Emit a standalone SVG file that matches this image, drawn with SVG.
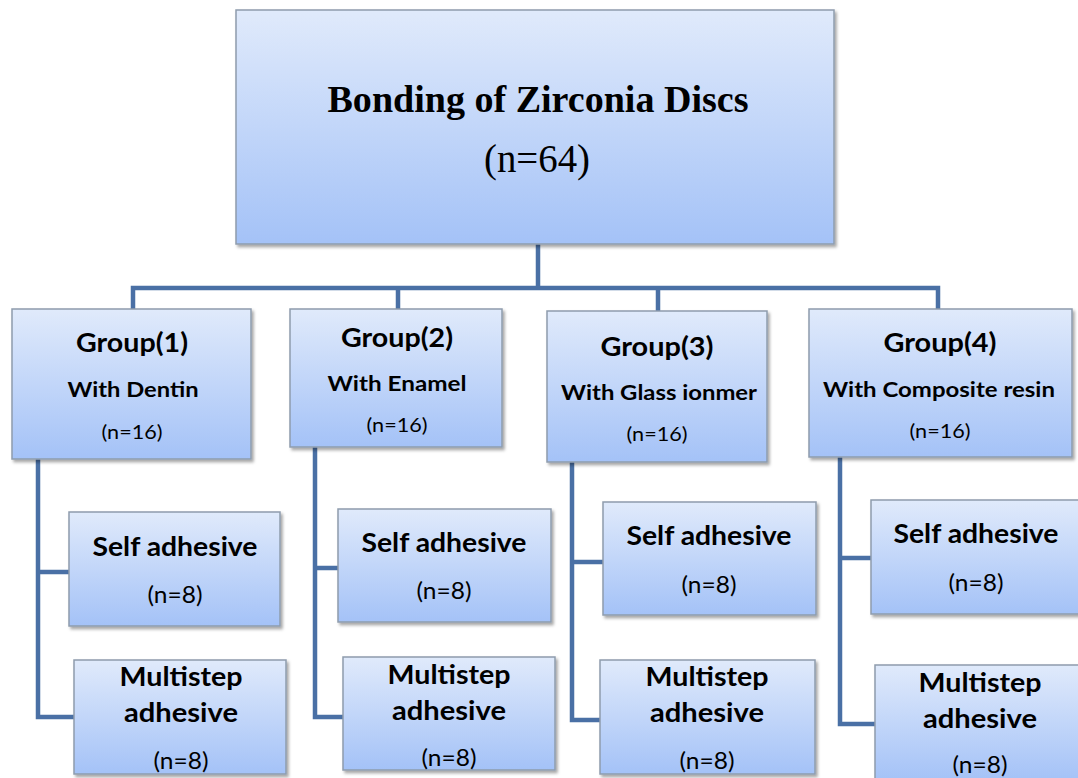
<svg xmlns="http://www.w3.org/2000/svg" width="1078" height="778" viewBox="0 0 1078 778">
<defs>
<linearGradient id="g" x1="0" y1="0" x2="0" y2="1">
<stop offset="0" stop-color="#e0eafb"/>
<stop offset="1" stop-color="#a4c2f7"/>
</linearGradient>
<filter id="sh" x="-5%" y="-5%" width="115%" height="120%">
<feDropShadow dx="2" dy="2.5" stdDeviation="1.5" flood-color="#000" flood-opacity="0.35"/>
</filter>
</defs>
<style>
.box{fill:url(#g);stroke:#8e9cad;stroke-width:1.5;filter:url(#sh)}
.ln{fill:none;stroke:#4a70a5;stroke-width:4.5;stroke-linejoin:miter}
.t{font-family:"Liberation Serif","Times New Roman",serif;text-anchor:middle;fill:#000}
.h{font-family:Lato,"Open Sans","Liberation Sans",sans-serif;font-weight:bold;text-anchor:middle;fill:#000}
.n{font-family:Lato,"Open Sans","Liberation Sans",sans-serif;text-anchor:middle;fill:#000}
</style>
<rect width="1078" height="778" fill="#fff"/>
<g id="connectors">
<path class="ln" d="M538,244 V288 M133,309 V288 H938 V309 M398,288 V309 M658,288 V311"/>
<path class="ln" d="M38,459 V717 H74 M38,572 H69"/>
<path class="ln" d="M315,447 V717 H343 M315,568 H338"/>
<path class="ln" d="M572,462 V720 H600 M572,562 H603"/>
<path class="ln" d="M840,457 V724 H875 M840,558 H871"/>
</g>
<g id="root">
<rect class="box" x="236" y="10" width="598" height="234"/>
<text class="t" x="538" y="112" font-size="38" font-weight="bold" textLength="421" lengthAdjust="spacingAndGlyphs">Bonding of Zirconia Discs</text>
<text class="t" x="537" y="172" font-size="39" textLength="106" lengthAdjust="spacingAndGlyphs">(n=64)</text>
</g>
<g id="group1">
<rect class="box" x="12" y="309" width="239" height="150"/>
<text class="h" x="132" y="352" font-size="26" textLength="112" lengthAdjust="spacingAndGlyphs">Group(1)</text>
<text class="h" x="133" y="397" font-size="21" textLength="131" lengthAdjust="spacingAndGlyphs">With Dentin</text>
<text class="n" x="132" y="439" font-size="20" textLength="61" lengthAdjust="spacingAndGlyphs">(n=16)</text>
</g>
<g id="group2">
<rect class="box" x="290" y="309" width="212" height="138"/>
<text class="h" x="397" y="347" font-size="26" textLength="112" lengthAdjust="spacingAndGlyphs">Group(2)</text>
<text class="h" x="397" y="391" font-size="21" textLength="139" lengthAdjust="spacingAndGlyphs">With Enamel</text>
<text class="n" x="397" y="432" font-size="20" textLength="61" lengthAdjust="spacingAndGlyphs">(n=16)</text>
</g>
<g id="group3">
<rect class="box" x="547" y="311" width="220" height="151"/>
<text class="h" x="657" y="356" font-size="26" textLength="113" lengthAdjust="spacingAndGlyphs">Group(3)</text>
<text class="h" x="659" y="400" font-size="21" textLength="196" lengthAdjust="spacingAndGlyphs">With Glass ionmer</text>
<text class="n" x="657" y="441" font-size="20" textLength="61" lengthAdjust="spacingAndGlyphs">(n=16)</text>
</g>
<g id="group4">
<rect class="box" x="809" y="309" width="263" height="148"/>
<text class="h" x="940" y="352" font-size="26" textLength="113" lengthAdjust="spacingAndGlyphs">Group(4)</text>
<text class="h" x="939" y="397" font-size="21" textLength="232" lengthAdjust="spacingAndGlyphs">With Composite resin</text>
<text class="n" x="940" y="438" font-size="20" textLength="61" lengthAdjust="spacingAndGlyphs">(n=16)</text>
</g>
<g id="self1">
<rect class="box" x="69" y="512" width="211" height="114"/>
<text class="h" x="175" y="556" font-size="26" textLength="165" lengthAdjust="spacingAndGlyphs">Self adhesive</text>
<text class="n" x="175" y="603" font-size="23" textLength="55" lengthAdjust="spacingAndGlyphs">(n=8)</text>
</g>
<g id="multi1">
<rect class="box" x="74" y="660" width="212" height="114"/>
<text class="h" x="181" y="686" font-size="26" textLength="123" lengthAdjust="spacingAndGlyphs">Multistep</text>
<text class="h" x="181" y="722" font-size="26" textLength="114" lengthAdjust="spacingAndGlyphs">adhesive</text>
<text class="n" x="181" y="769" font-size="23" textLength="55" lengthAdjust="spacingAndGlyphs">(n=8)</text>
</g>
<g id="self2">
<rect class="box" x="338" y="509" width="213" height="113"/>
<text class="h" x="444" y="552" font-size="26" textLength="165" lengthAdjust="spacingAndGlyphs">Self adhesive</text>
<text class="n" x="444" y="599" font-size="23" textLength="55" lengthAdjust="spacingAndGlyphs">(n=8)</text>
</g>
<g id="multi2">
<rect class="box" x="343" y="657" width="212" height="113"/>
<text class="h" x="449" y="684" font-size="26" textLength="123" lengthAdjust="spacingAndGlyphs">Multistep</text>
<text class="h" x="449" y="720" font-size="26" textLength="114" lengthAdjust="spacingAndGlyphs">adhesive</text>
<text class="n" x="449" y="766" font-size="23" textLength="55" lengthAdjust="spacingAndGlyphs">(n=8)</text>
</g>
<g id="self3">
<rect class="box" x="603" y="502" width="213" height="113"/>
<text class="h" x="709" y="545" font-size="26" textLength="165" lengthAdjust="spacingAndGlyphs">Self adhesive</text>
<text class="n" x="709" y="593" font-size="23" textLength="55" lengthAdjust="spacingAndGlyphs">(n=8)</text>
</g>
<g id="multi3">
<rect class="box" x="600" y="660" width="215" height="114"/>
<text class="h" x="707" y="686" font-size="26" textLength="123" lengthAdjust="spacingAndGlyphs">Multistep</text>
<text class="h" x="707" y="722" font-size="26" textLength="114" lengthAdjust="spacingAndGlyphs">adhesive</text>
<text class="n" x="707" y="769" font-size="23" textLength="55" lengthAdjust="spacingAndGlyphs">(n=8)</text>
</g>
<g id="self4">
<rect class="box" x="871" y="500" width="210" height="114"/>
<text class="h" x="976" y="543" font-size="26" textLength="165" lengthAdjust="spacingAndGlyphs">Self adhesive</text>
<text class="n" x="976" y="591" font-size="23" textLength="55" lengthAdjust="spacingAndGlyphs">(n=8)</text>
</g>
<g id="multi4">
<rect class="box" x="875" y="665" width="210" height="116"/>
<text class="h" x="980" y="692" font-size="26" textLength="123" lengthAdjust="spacingAndGlyphs">Multistep</text>
<text class="h" x="980" y="728" font-size="26" textLength="114" lengthAdjust="spacingAndGlyphs">adhesive</text>
<text class="n" x="980" y="773" font-size="23" textLength="55" lengthAdjust="spacingAndGlyphs">(n=8)</text>
</g>
</svg>
